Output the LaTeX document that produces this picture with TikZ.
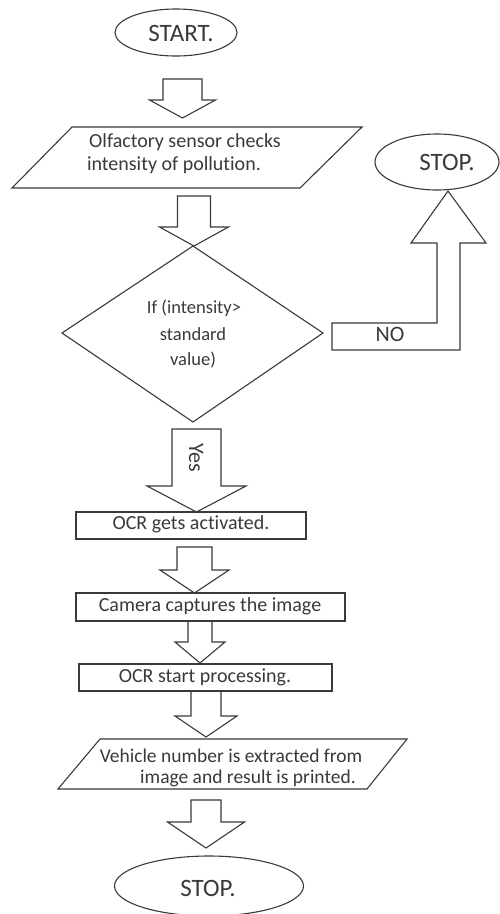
\documentclass[tikz,border=0pt]{standalone}
\usepackage{fontspec}
\setmainfont{Carlito}[Ligatures=NoCommon]
\usetikzlibrary{shapes.geometric}
\definecolor{ink}{HTML}{3A3A3A}
\newcommand\flowarrow[6]{%
  \draw[shp] (#1-#5,#2) -- (#1+#5,#2) -- (#1+#5,#3) -- (#1+#6,#3) -- (#1,#4)
    -- (#1-#6,#3) -- (#1-#5,#3) -- cycle;}
\begin{document}
\begin{tikzpicture}[x=1pt,y=-1pt]
\tikzset{
  shp/.style={draw=ink, line width=1.1pt, line join=miter},
  lbl/.style={text=ink, font=\fontsize{20}{24}\selectfont, inner sep=0pt},
  small/.style={text=ink, font=\fontsize{18.5}{22}\selectfont, inner sep=0pt},
  term/.style={ellipse, draw=ink, line width=1.1pt, inner sep=0pt},
  termtext/.style={text=ink, font=\fontsize{25}{30}\selectfont, inner sep=0pt}
}
\useasboundingbox (0,0) rectangle (499,914);
\fill[white] (0,0) rectangle (499,914);

% START
\node[term, minimum width=122, minimum height=47] (start) at (176,32.5) {};
\node[termtext] (starttext) at (181,33) {START.};

% arrow 1
\flowarrow{182.5}{79}{100}{118}{19.5}{33}

% parallelogram 1
\draw[shp] (72,127) -- (362,127) -- (300,188) -- (12,188) -- cycle;
\node[lbl] (sense1) at (185,142) {Olfactory sensor checks};
\node[lbl] (sense2) at (174,165) {intensity of pollution.};

% right STOP
\node[term, minimum width=124, minimum height=56] (stopr) at (437,162) {};
\node[termtext] (stoprtext) at (447,162) {STOP.};

% arrow 2
\flowarrow{194}{196}{227}{246}{16.5}{34.5}

% diamond
\draw[shp] (193,246) -- (323,333) -- (193,422) -- (62,333) -- cycle;
\node[small] (dec1) at (194,308) {If (intensity>};
\node[small] (dec2) at (193,334) {standard};
\node[small] (dec3) at (193,360) {value)};

% NO bent arrow
\draw[shp] (332,323) -- (437,323) -- (437,243) -- (411,243) -- (448,191)
  -- (486,243) -- (460,243) -- (460,350) -- (332,350) -- cycle;
\node[lbl, font=\fontsize{22}{26}\selectfont] (no) at (390,334) {NO};

% Yes arrow
\flowarrow{196.5}{429}{486}{512}{24.5}{49.5}
\node[lbl, font=\fontsize{22}{26}\selectfont, rotate=-90] (yes) at (196,458) {Yes};

% box 1
\draw[shp] (76,512) rectangle (306,539);
\node[lbl] (ocr1) at (191,524) {OCR gets activated.};

% arrow 4
\flowarrow{194.5}{547}{570}{593}{17.5}{34.5}

% box 2
\draw[shp] (76,593) rectangle (345,621);
\node[lbl] (cam) at (210,606) {Camera captures the image};

% arrow 5
\flowarrow{200}{621}{642}{663}{12}{25}

% box 3
\draw[shp] (79,664) rectangle (332,691);
\node[lbl] (ocr2) at (205,677) {OCR start processing.};

% arrow 6
\flowarrow{206}{691}{716}{737}{15}{31}

% parallelogram 2
\draw[shp] (100,739) -- (407,739) -- (367,789) -- (58,789) -- cycle;
\node[lbl, font=\fontsize{19.5}{23}\selectfont] (veh1) at (231,755.5) {Vehicle number is extracted from};
\node[lbl, font=\fontsize{19.5}{23}\selectfont] (veh2) at (248,778.5) {image and result is printed.};

% arrow 7
\flowarrow{206}{800}{822}{848}{15}{38.5}

% bottom STOP
\node[term, minimum width=189, minimum height=60] (stopb) at (209,886) {};
\node[termtext] (stopbtext) at (208,888) {STOP.};
\end{tikzpicture}
\end{document}
